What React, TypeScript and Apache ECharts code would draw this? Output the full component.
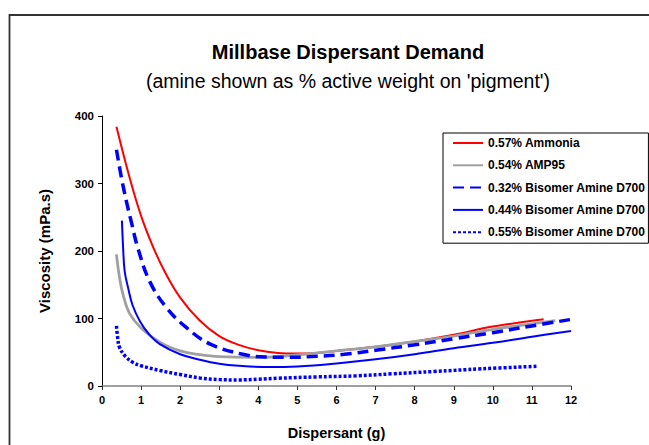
import React, { useEffect, useRef } from "react";
import * as echarts from "echarts";

const FONT = 'Arial, "Liberation Sans", sans-serif';

const seriesNames = [
  "0.57% Ammonia",
  "0.54% AMP95",
  "0.32% Bisomer Amine D700",
  "0.44% Bisomer Amine D700",
  "0.55% Bisomer Amine D700",
];

const ammoniaX = [0.37, 0.7, 1.0, 1.3, 1.6, 2.0, 2.5, 3.0, 3.5, 4.0, 4.5, 5.0, 5.5, 6.0, 7.0, 8.0, 9.0, 10.0, 11.3];
const ammoniaY = [384, 310, 252, 207, 170, 131, 97, 74, 61, 53, 49, 48, 49, 52, 58, 66, 76, 88, 99];

const amp95X = [0.37, 0.45, 0.54, 0.7, 1.0, 1.5, 2.0, 2.5, 3.0, 4.0, 5.0, 6.0, 7.0, 8.0, 9.0, 10.0, 11.6];
const amp95Y = [195, 160, 135, 108, 86, 64, 52, 46.5, 43.5, 42.5, 46, 52, 58, 66, 74, 84, 97];

const d700aX = [0.37, 0.54, 0.75, 0.92, 1.22, 1.65, 2.17, 2.77, 3.6, 4.2, 4.8, 5.5, 6.2, 7.0, 8.0, 9.0, 10.0, 11.0, 12.0];
const d700aY = [350, 296, 243, 204, 155, 116, 86, 62, 47, 43, 42.5, 44, 47, 53, 61, 70, 79, 89, 98.6];

const d700bX = [0.51, 0.54, 0.58, 0.67, 0.78, 0.97, 1.2, 1.48, 2.0, 2.5, 3.0, 3.5, 4.3, 5.0, 6.0, 7.0, 8.0, 9.0, 10.0, 11.0, 12.0];
const d700bY = [245, 205, 170, 145, 120, 96, 77, 62, 47, 39, 33, 30, 28, 29, 33.5, 39.5, 47, 56, 64, 73, 81.6];

const d700cX = [0.37, 0.4, 0.45, 0.6, 0.79, 1.0, 1.48, 2.0, 2.5, 3.0, 3.5, 4.0, 4.5, 5.5, 6.5, 7.4, 8.5, 9.7, 11.16];
const d700cY = [89, 72, 57, 44, 35, 30, 23, 17, 12, 9.5, 9, 10, 11.5, 13.5, 15, 18, 21.5, 25.4, 29.3];

const xTicks = { min: 0, max: 12, interval: 1 };
const yTicks = { min: 0, max: 400, interval: 100 };

const zip = (xs: number[], ys: number[]) => xs.map((x, i) => [x, ys[i]]);

export default function App() {
  const ref = useRef<HTMLDivElement>(null);
  useEffect(() => {
    if (!ref.current) return;
    const chart = echarts.init(ref.current, undefined, { renderer: "svg" });
    const styles = [
      { color: "#FF0000", width: 2, type: "solid" as any },
      { color: "#A0A0A0", width: 2.8, type: "solid" as any },
      { color: "#0000FF", width: 3.5, type: [11, 6] as any },
      { color: "#0000FF", width: 2, type: "solid" as any },
      { color: "#0000FF", width: 3.5, type: [3, 2] as any },
    ];
    const datas = [
      zip(ammoniaX, ammoniaY),
      zip(amp95X, amp95Y),
      zip(d700aX, d700aY),
      zip(d700bX, d700bY),
      zip(d700cX, d700cY),
    ];
    chart.setOption({
      animation: false,
      backgroundColor: "#ffffff",
      textStyle: { fontFamily: FONT },
      title: {
        text: "Millbase Dispersant Demand",
        subtext: "(amine shown as % active weight on 'pigment')",
        left: 348,
        top: 41,
        textAlign: "center",
        padding: 0,
        itemGap: 8,
        textStyle: { fontFamily: FONT, fontSize: 20, fontWeight: "bold", color: "#000", lineHeight: 21 },
        subtextStyle: { fontFamily: FONT, fontSize: 19.5, fontWeight: "normal", color: "#000", lineHeight: 21 },
      },
      graphic: [
        {
          type: "rect",
          shape: { x: 9.5, y: 15, width: 700, height: 500 },
          style: { fill: "none", stroke: "#333", lineWidth: 1.8 },
          silent: true,
          z: -1,
        },
      ],
      legend: {
        orient: "vertical",
        left: 443,
        top: 133,
        padding: [4, 3, 5, 9],
        itemGap: 10.3,
        itemWidth: 30,
        itemHeight: 13,
        borderColor: "#000",
        borderWidth: 1,
        backgroundColor: "#fff",
        itemStyle: { opacity: 0 },
        textStyle: { fontFamily: FONT, fontSize: 12, fontWeight: "bold", color: "#000" },
        data: seriesNames,
      },
      grid: { left: 102, right: 78, top: 116, bottom: 56, containLabel: false },
      xAxis: {
        type: "value",
        min: xTicks.min,
        max: xTicks.max,
        interval: xTicks.interval,
        name: "Dispersant (g)",
        nameLocation: "middle",
        nameGap: 39,
        nameTextStyle: { fontFamily: FONT, fontSize: 14.5, fontWeight: "bold", color: "#000" },
        axisLine: { onZero: false, lineStyle: { color: "#808080", width: 1.5 } },
        axisTick: { show: true, length: 4, lineStyle: { color: "#333", width: 1 } },
        axisLabel: { margin: 8, fontFamily: FONT, fontSize: 11, fontWeight: "bold", color: "#000" },
        splitLine: { show: false },
      },
      yAxis: {
        type: "value",
        min: yTicks.min,
        max: yTicks.max,
        interval: yTicks.interval,
        name: "Viscosity (mPa.s)",
        nameLocation: "middle",
        nameGap: 50,
        nameTextStyle: { fontFamily: FONT, fontSize: 15, fontWeight: "bold", color: "#000" },
        axisLine: { show: true, lineStyle: { color: "#000", width: 1 } },
        axisTick: { show: true, length: 4, lineStyle: { color: "#000", width: 1 } },
        axisLabel: { margin: 8, fontFamily: FONT, fontSize: 11.5, fontWeight: "bold", color: "#000" },
        splitLine: { show: false },
      },
      series: seriesNames.map((name, i) => ({
        name,
        type: "line",
        data: datas[i],
        smooth: 0.4,
        symbol: "none",
        showSymbol: false,
        color: styles[i].color,
        lineStyle: { color: styles[i].color, width: styles[i].width, type: styles[i].type },
      })),
    });
    return () => chart.dispose();
  }, []);
  return (
    <div
      ref={ref}
      style={{ position: "absolute", left: 0, top: 0, width: 649, height: 445 }}
    />
  );
}
